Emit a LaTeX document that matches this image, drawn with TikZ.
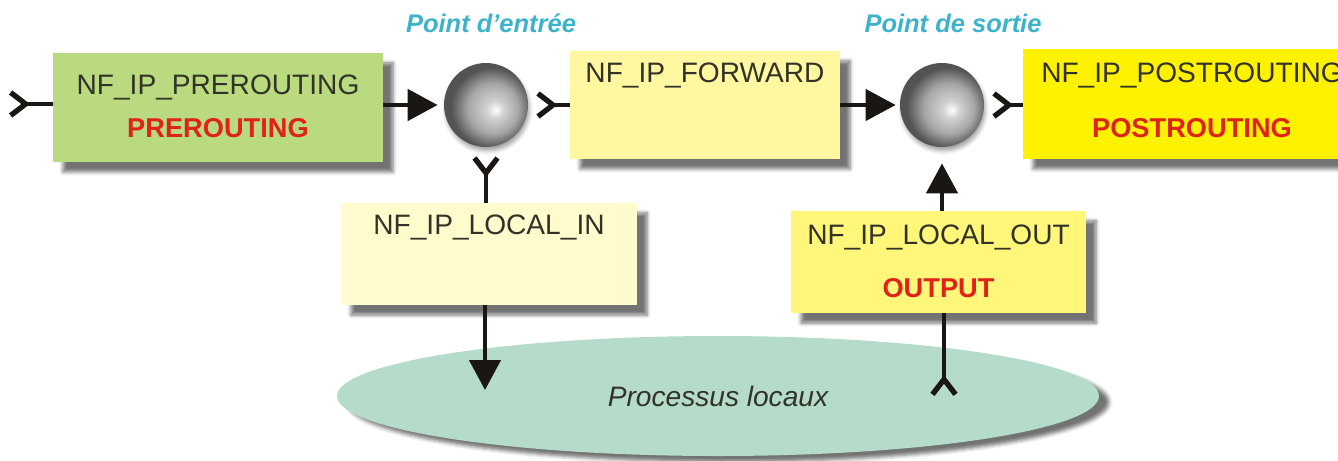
\documentclass[tikz,border=0pt]{standalone}
\usepackage{fontspec}
\setmainfont{Liberation Sans}
\usepackage{xcolor}
\usepackage{tikz}
\usetikzlibrary{shapes,arrows.meta,positioning,shadows,shadows.blur}
\definecolor{prerouting}{RGB}{185,218,126}
\definecolor{forward}{RGB}{255,248,160}
\definecolor{postrouting}{RGB}{255,242,0}
\definecolor{localin}{RGB}{255,251,204}
\definecolor{localout}{RGB}{255,246,122}
\definecolor{process}{RGB}{181,220,202}
\definecolor{tablered}{RGB}{224,35,24}
\definecolor{titlecyan}{RGB}{61,179,203}
\definecolor{hooktext}{RGB}{50,50,40}
\definecolor{flowblack}{RGB}{25,22,20}

\pgfdeclareradialshading{hookball}{\pgfqpoint{6bp}{-3bp}}{color(0bp)=(white); color(5bp)=(gray!35); color(15bp)=(gray!70); color(24bp)=(gray!65!black); color(50bp)=(gray!65!black)}

\begin{document}
\begin{tikzpicture}[
    hookbox/.style={rectangle, inner sep=0pt, blur shadow={shadow xshift=0.2cm, shadow yshift=-0.2cm, shadow blur steps=6, shadow opacity=55}},
    hookname/.style={anchor=base, font=\fontsize{16}{19}\selectfont, text=hooktext},
    tablename/.style={anchor=base, font=\fontsize{15.5}{19}\selectfont\bfseries, text=tablered},
    hookpoint/.style={circle, minimum size=1.68cm, inner sep=0pt, shading=hookball, blur shadow={shadow xshift=0.03cm, shadow yshift=-0.08cm, shadow opacity=35}},
    hooktitle/.style={anchor=base, font=\fontsize{14.5}{17}\selectfont\bfseries\itshape, text=titlecyan},
    flow/.style={line width=2.6pt, draw=flowblack, -{Triangle[length=0.6cm,width=0.62cm]}},
    tailflow/.style={line width=2.6pt, draw=flowblack, {Straight Barb[reversed,length=0.3cm,width=0.46cm,line width=3pt]}-},
]
        \useasboundingbox (0,0) rectangle (26.76,9.2);
        \clip (0,0) rectangle (26.76,9.2);

        % Local processes
        \node[ellipse, fill=process, minimum width=15.24cm, minimum height=2.4cm, inner sep=0pt,
              blur shadow={shadow xshift=0.2cm, shadow yshift=-0.12cm, shadow opacity=55},
              font=\fontsize{16}{19}\selectfont\itshape, text=hooktext] (proc) at (14.36,1.28) {Processus locaux};

        % Hook points
        \node[hookpoint] (c1) at (9.72,7.1) {};
        \node[hookpoint] (c2) at (18.84,7.1) {};
        \node[hooktitle] (c1-title) at (9.82,8.54) {Point d'entrée};
        \node[hooktitle] (c2-title) at (19.06,8.54) {Point de sortie};

        % Hook boxes
        \node[hookbox, fill=prerouting, minimum width=6.6cm, minimum height=2.18cm] (prer) at (4.36,7.05) {};
        \node[hookbox, fill=forward, minimum width=5.4cm, minimum height=2.16cm] (fwd) at (14.1,7.1) {};
        \node[hookbox, fill=postrouting, minimum width=6.76cm, minimum height=2.2cm] (post) at (23.84,7.12) {};
        \node[hookbox, fill=localin, minimum width=5.92cm, minimum height=2.04cm] (lin) at (9.78,4.12) {};
        \node[hookbox, fill=localout, minimum width=5.9cm, minimum height=2.04cm] (lout) at (18.77,3.96) {};

        % Box texts
        \node[hookname] (prer-hook) at ([yshift=-0.84cm]prer.north) {NF\_IP\_PREROUTING};
        \node[tablename] (prer-table) at ([yshift=-1.7cm]prer.north) {PREROUTING};
        \node[hookname] (fwd-hook) at ([yshift=-0.64cm]fwd.north) {NF\_IP\_FORWARD};
        \node[hookname] (post-hook) at ([yshift=-0.68cm]post.north) {NF\_IP\_POSTROUTING};
        \node[tablename] (post-table) at ([yshift=-1.78cm]post.north) {POSTROUTING};
        \node[hookname] (lin-hook) at ([yshift=-0.64cm]lin.north) {NF\_IP\_LOCAL\_IN};
        \node[hookname] (lout-hook) at ([yshift=-0.68cm]lout.north) {NF\_IP\_LOCAL\_OUT};
        \node[tablename] (lout-table) at ([yshift=-1.74cm]lout.north) {OUTPUT};

        % Packet flow
        \coordinate (in) at (0.16,7.12);
        \coordinate (proc-in) at (9.7,1.4);
        \coordinate (proc-out) at (18.88,1.26);
        \draw[tailflow] (in) -- (prer.west |- in);
        \draw[flow, shorten >=0.12cm] (prer.east |- c1) -- (c1.west);
        \draw[tailflow, shorten <=0.14cm] (c1.east) -- (fwd.west |- c1);
        \draw[flow, shorten >=0.08cm] (fwd.east |- c2) -- (c2.west);
        \draw[tailflow, shorten <=0.14cm] (c2.east) -- (post.west |- c2);
        \draw[tailflow, shorten <=0.16cm] (c1.south) -- (c1.south |- lin.north);
        \draw[flow] (lin.south -| proc-in) -- (proc-in);
        \draw[tailflow] (proc-out) -- (proc-out |- lout.south);
        \draw[flow, shorten >=0.32cm] (lout.north -| c2) -- (c2.south);
    \end{tikzpicture}
\end{document}
